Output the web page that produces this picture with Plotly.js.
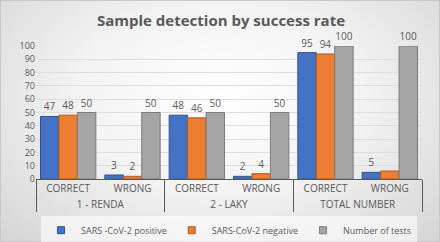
<!DOCTYPE html>
<html><head><meta charset="utf-8">
<script src="https://cdn.plot.ly/plotly-3.0.1.min.js"></script>
<style>
html,body{margin:0;padding:0;}
body{width:440px;height:242px;overflow:hidden;
background:radial-gradient(ellipse at 50% 40%, #ffffff 0%, #f3f3f3 45%, #d4d4d4 100%);}
#chart{width:440px;height:242px;box-sizing:border-box;border:1px solid #c8c8c8;}
</style></head>
<body><div id="chart"></div>
<script>
const groups = ["1 - RENDA","1 - RENDA","2 - LAKY","2 - LAKY","TOTAL NUMBER","TOTAL NUMBER"];
const subs = ["CORRECT","WRONG","CORRECT","WRONG","CORRECT","WRONG"];
const positive = [47, 3, 48, 2, 95, 5];
const negative = [48, 2, 46, 4, 94, 6];
const tests = [50, 50, 50, 50, 100, 100];
const negativeLabels = ["48","2","46","4","94",""];
const seriesNames = ["SARS -CoV-2 positive","SARS-CoV-2 negative","Number of tests"];

const colors = ["#4472C4","#ED7D31","#A5A5A5"];
const edges = ["#2F528F","#AE5A21","#7B7B7B"];
const vals = [positive, negative, tests];
const texts = [positive.map(String), negativeLabels, tests.map(String)];

const data = vals.map((v,i)=>({
  type:'bar', x:[groups, subs], y:v, name:seriesNames[i],
  marker:{color:colors[i], line:{color:edges[i], width:1}},
  text:texts[i], textposition:'outside', cliponaxis:false,
  textfont:{family:'Open Sans, sans-serif', size:10, color:'#595959'},
  hoverinfo:'none', showlegend:false
}));
seriesNames.forEach((n,i)=>{
  data.push({type:'scatter', mode:'markers', x:[[groups[0]],[subs[0]]], y:[null], name:n,
    marker:{symbol:'square', size:7, color:colors[i], line:{color:edges[i], width:1}},
    hoverinfo:'none', showlegend:true});
});

const layout = {
  width:440, height:242,
  paper_bgcolor:'rgba(0,0,0,0)', plot_bgcolor:'rgba(0,0,0,0)',
  margin:{l:35, r:19, t:45, b:64, autoexpand:false},
  title:{text:'<b>Sample detection by success rate</b>', x:0.5, xanchor:'center', y:0.918, yanchor:'middle',
    font:{family:'Open Sans, sans-serif', size:15, color:'#595959'}},
  barmode:'group', bargap:0.14, bargroupgap:0,
  font:{family:'Open Sans, sans-serif', size:9, color:'#595959'},
  yaxis:{range:[0,100], dtick:10, showgrid:true, gridcolor:'#dedede', gridwidth:1,
    zeroline:false, showline:false, ticks:'', tickfont:{size:9, color:'#595959'}},
  xaxis:{type:'multicategory', automargin:false, showline:true, linecolor:'#595959', linewidth:1,
    showdividers:true, dividercolor:'#595959', dividerwidth:1,
    ticks:'', tickfont:{size:10, color:'#595959'}},
  legend:{orientation:'h', x:0.5, xanchor:'center', y:-0.385, yanchor:'middle',
    bgcolor:'rgba(255,255,255,0.6)', font:{size:9, color:'#595959'},
    itemwidth:30, traceorder:'normal', tracegroupgap:0},
  showlegend:true
};
Plotly.newPlot('chart', data, layout, {displayModeBar:false, staticPlot:true});
</script></body></html>
